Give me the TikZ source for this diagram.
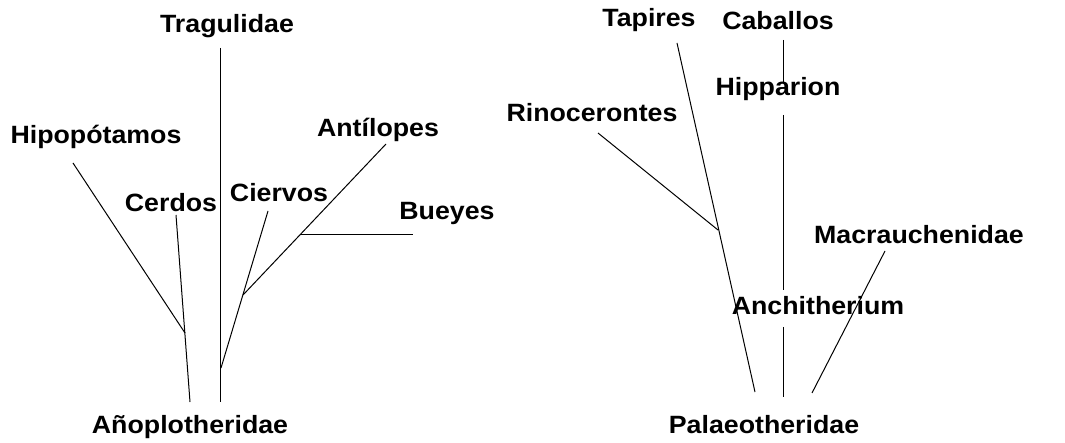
\documentclass[tikz,border=0pt]{standalone}
\usepackage{fontspec}
\setmainfont{Liberation Sans}[FakeStretch=1.07]
\begin{document}
\begin{tikzpicture}[x=1pt,y=-1pt,
  lbl/.style={anchor=base,inner sep=0pt,font=\fontsize{25}{30}\selectfont\bfseries},
  br/.style={line width=1pt,black}]
\useasboundingbox[fill=white] (0,0) rectangle (1065,443);
% left tree labels
\node[lbl] (trag) at (227,33) {Tragulidae};
\node[lbl] (hipo) at (96,144) {Hipopótamos};
\node[lbl] (cerd) at (171,212) {Cerdos};
\node[lbl] (cier) at (279,202) {Ciervos};
\node[lbl] (anti) at (378,137) {Antílopes};
\node[lbl] (buey) at (447,220) {Bueyes};
\node[lbl] (anop) at (190,433) {Añoplotheridae};
% left tree points
\coordinate (t1) at (220,48);
\coordinate (t0) at (220,402);
\coordinate (h1) at (73,163);
\coordinate (hj) at (185,333);
\coordinate (c1) at (176,215);
\coordinate (c0) at (190,402);
\coordinate (v1) at (268,211);
\coordinate (vj) at (243,295);
\coordinate (v0) at (221,368);
\coordinate (a1) at (386,144);
\coordinate (aj) at (300,235);
\coordinate (b1) at (413,235);
\draw[br] (t1) -- (t0);
\draw[br] (h1) -- (hj);
\draw[br] (c1) -- (c0);
\draw[br] (v1) -- (v0);
\draw[br] (a1) -- (vj);
\draw[br] (aj) -- (b1);
% right tree labels
\node[lbl] (tapi) at (649,27) {Tapires};
\node[lbl] (caba) at (778,30) {Caballos};
\node[lbl] (hipp) at (778,96) {Hipparion};
\node[lbl] (rino) at (592,122) {Rinocerontes};
\node[lbl] (macr) at (919,244) {Macrauchenidae};
\node[lbl] (anch) at (818,315) {Anchitherium};
\node[lbl] (pala) at (764,433) {Palaeotheridae};
% right tree points
\coordinate (p1) at (677,43);
\coordinate (p0) at (755,392);
\coordinate (r1) at (598,133);
\coordinate (rj) at (718,230);
\coordinate (k1) at (783,40);
\coordinate (k2) at (783,82);
\coordinate (k3) at (783,115);
\coordinate (k4) at (783,290);
\coordinate (k5) at (783,327);
\coordinate (k6) at (783,397);
\coordinate (m1) at (885,251);
\coordinate (m0) at (812,393);
\draw[br] (p1) -- (p0);
\draw[br] (r1) -- (rj);
\draw[br] (k1) -- (k2);
\draw[br] (k3) -- (k4);
\draw[br] (k5) -- (k6);
\draw[br] (m1) -- (m0);
\end{tikzpicture}
\end{document}
